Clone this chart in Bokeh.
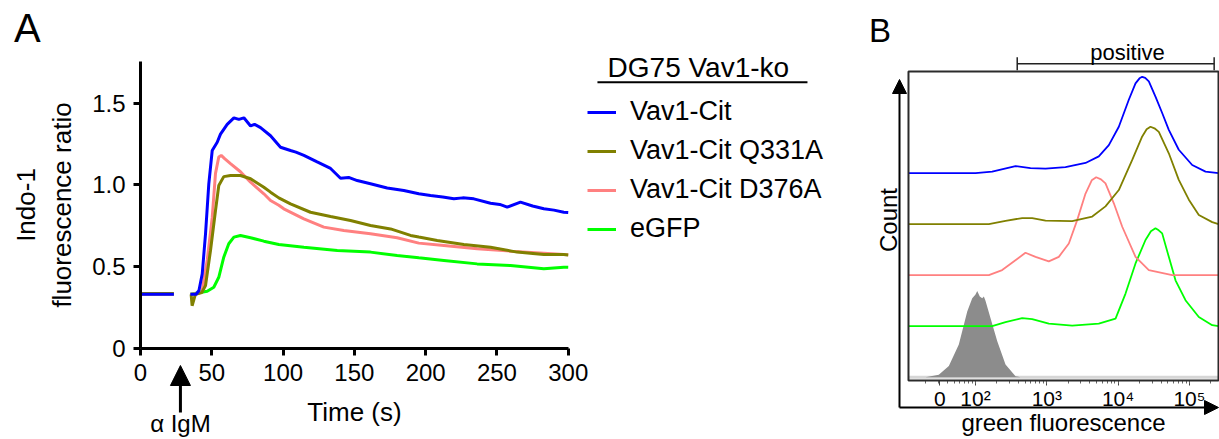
import numpy as np
from bokeh.plotting import figure
from bokeh.models import (Range1d, FixedTicker, Legend, LegendItem, Label, Arrow,
                          NormalHead, TeeHead, BoxAnnotation)
from bokeh.layouts import row
from bokeh.embed import file_html
from bokeh.resources import INLINE

FONT = "Liberation Sans"
nan = float("nan")

# ---------------- Panel A: Indo-1 calcium flux after anti-IgM ----------------
series_names = ["Vav1-Cit", "Vav1-Cit Q331A", "Vav1-Cit D376A", "eGFP"]
series_colors = ["#0000ff", "#808000", "#ff8080", "#00ff00"]

t_vav1 = [0, 23.4, 29, 35, 39, 41, 43.3, 45.6, 47.9, 50.3, 53.8, 56.1, 60.8, 65.5, 69, 72.5,
          77.2, 80, 84.2, 91.2, 98.2, 105.2, 109, 114.6, 123.9, 133.3, 140.3, 146, 152,
          161.3, 173, 184.7, 195.2, 203.4, 212, 219.8, 226, 233.8, 245.5, 252, 257.2,
          266.5, 275, 282.9, 290, 296.9, 300]
r_vav1 = [0.33, 0.33, nan, 0.33, 0.33, 0.353, 0.455, 0.70, 1.006, 1.21, 1.26, 1.31, 1.37,
          1.41, 1.40, 1.41, 1.36, 1.37, 1.35, 1.30, 1.23, 1.21, 1.20, 1.18, 1.14, 1.10, 1.04,
          1.045, 1.026, 1.006, 0.98, 0.965, 0.945, 0.934, 0.925, 0.914, 0.92, 0.914, 0.887,
          0.88, 0.863, 0.894, 0.87, 0.853, 0.845, 0.832, 0.83]

t_q331a = [0, 23.4, 29, 35.5, 36.2, 37.4, 38.5, 43, 45.6, 49.1, 52.6, 54.9, 58.4, 63.1, 70.1,
           77.2, 86.5, 91.2, 97, 105.2, 119.2, 133.3, 147.3, 161.3, 175.4, 189.4, 195.2,
           208.1, 226.8, 245.5, 264.2, 282.9, 296.9, 300]
r_q331a = [0.335, 0.335, nan, 0.33, 0.26, 0.296, 0.33, 0.34, 0.384, 0.598, 0.843, 0.996, 1.05,
           1.057, 1.057, 1.037, 0.985, 0.955, 0.92, 0.883, 0.832, 0.806, 0.781, 0.751, 0.73,
           0.69, 0.68, 0.659, 0.635, 0.618, 0.588, 0.573, 0.573, 0.57]

t_d376a = [0, 23.4, 29, 35, 41, 43.3, 46.8, 50.3, 52.6, 54.9, 56.6, 59, 63.1, 70.1, 77.2, 86.5,
           91.2, 97, 100.5, 114.6, 128.6, 142.6, 161.3, 180, 195.2, 212.8, 236.1, 259.5,
           282.9, 296.9, 300]
r_d376a = [0.33, 0.33, nan, 0.33, 0.335, 0.353, 0.54, 0.80, 1.07, 1.17, 1.18, 1.16, 1.13, 1.08,
           1.016, 0.945, 0.904, 0.875, 0.853, 0.792, 0.741, 0.72, 0.70, 0.676, 0.643, 0.628,
           0.608, 0.594, 0.581, 0.573, 0.572]

t_egfp = [0, 23.4, 29, 35, 46.8, 51.4, 54.9, 58.4, 61.9, 65.5, 70.1, 77.2, 86.5, 97, 114.6,
          138, 161.3, 180, 195.2, 212.8, 236.1, 259.5, 282.9, 296.9, 300]
r_egfp = [0.33, 0.33, nan, 0.33, 0.349, 0.373, 0.434, 0.557, 0.639, 0.68, 0.69, 0.676, 0.655,
          0.635, 0.618, 0.598, 0.588, 0.567, 0.553, 0.537, 0.516, 0.506, 0.486, 0.496, 0.495]

y_ticks = [0, 0.5, 1.0, 1.5]
y_tick_labels = {0: "0", 0.5: "0.5", 1.0: "1.0", 1.5: "1.5"}
x_ticks = [0, 50, 100, 150, 200, 250, 300]
t_axis = (0, 300)        # extent of the time axis
r_axis = (0, 1.755)      # extent of the ratio axis
stim_time = 28           # anti-IgM added

# the frame spans the whole canvas; axes are pinned at t=0 / ratio=0
pa = figure(width=860, height=439, output_backend="svg", toolbar_location=None,
            x_range=Range1d(-98.2, 505.0), y_range=Range1d(-0.5588, 2.1279),
            min_border=0, min_border_left=0, min_border_right=0,
            min_border_top=0, min_border_bottom=0)
pa.outline_line_color = None
pa.xgrid.visible = False
pa.ygrid.visible = False

renderers = {}
data_a = {
    "Vav1-Cit": (t_vav1, r_vav1),
    "Vav1-Cit Q331A": (t_q331a, r_q331a),
    "Vav1-Cit D376A": (t_d376a, r_d376a),
    "eGFP": (t_egfp, r_egfp),
}
for name, color in reversed(list(zip(series_names, series_colors))):
    t, r = data_a[name]
    renderers[name] = pa.line(t, r, line_color=color, line_width=3)

for ax in (pa.xaxis[0], pa.yaxis[0]):
    ax.axis_line_width = 3
    ax.axis_line_color = "black"
    ax.major_tick_line_width = 3
    ax.major_tick_out = 7
    ax.major_tick_in = 0
    ax.minor_tick_line_color = None
    ax.major_label_text_font = FONT
    ax.major_label_text_font_size = "24px"
    ax.major_label_text_color = "black"
    ax.axis_label_text_font = FONT
    ax.axis_label_text_font_size = "26px"
    ax.axis_label_text_font_style = "normal"
    ax.axis_label_text_color = "black"

xa = pa.xaxis[0]
xa.fixed_location = 0
xa.bounds = t_axis
xa.ticker = FixedTicker(ticks=x_ticks)
xa.major_label_standoff = 9
xa.axis_label = "Time (s)"
xa.axis_label_standoff = 12

ya = pa.yaxis[0]
ya.fixed_location = 0
ya.bounds = r_axis
ya.ticker = FixedTicker(ticks=y_ticks)
ya.major_label_overrides = y_tick_labels
ya.major_label_standoff = 8
ya.axis_label = "Indo-1\nfluorescence ratio"
ya.axis_label_standoff = 12

legend = Legend(
    items=[LegendItem(label=n, renderers=[renderers[n]]) for n in series_names],
    location=(587, 195), orientation="vertical",
    glyph_width=29, glyph_height=30, label_height=30, spacing=8,
    padding=0, margin=0, label_standoff=14,
    border_line_color=None, background_fill_alpha=0,
    label_text_font=FONT, label_text_font_size="27px", label_text_color="black",
)
pa.add_layout(legend)

pa.add_layout(Label(x=327.6, y=1.715, text="DG75 Vav1-ko", text_align="left",
                    text_baseline="middle", text_font=FONT, text_font_size="28px",
                    text_color="black"))
pa.add_layout(Arrow(end=None, x_start=320.5, x_end=467.8, y_start=1.628, y_end=1.628,
                    line_width=2, line_color="black"))

pa.add_layout(Arrow(end=NormalHead(size=20, fill_color="black", line_color="black"),
                    x_start=stim_time, y_start=-0.394, x_end=stim_time, y_end=-0.106,
                    line_width=3, line_color="black"))
pa.add_layout(Label(x=stim_time, y=-0.46, text="α IgM", text_align="center",
                    text_baseline="middle", text_font=FONT, text_font_size="24px",
                    text_color="black"))
pa.add_layout(Label(x=-79.3, y=1.96, text="A", text_align="center", text_baseline="middle",
                    text_font=FONT, text_font_size="40px", text_color="black"))

# ---------------- Panel B: green fluorescence histograms (log decades) ----------------
offsets = {"Vav1-Cit": 4, "Vav1-Cit Q331A": 3, "Vav1-Cit D376A": 2, "eGFP": 1, "neg": 0}

h_vav1_x = [1.06, 2.0, 2.234, 2.561, 2.771, 2.982, 3.262, 3.543, 3.729, 3.870, 4.010, 4.150,
            4.244, 4.30, 4.338, 4.38, 4.431, 4.524, 4.618, 4.711, 4.851, 5.039, 5.226, 5.408]
h_vav1_y = [0, 0, 0.03, 0.14, 0.10, 0.09, 0.12, 0.20, 0.33, 0.55, 0.91, 1.44, 1.76, 1.86, 1.89,
            1.87, 1.80, 1.50, 1.18, 0.85, 0.46, 0.16, 0.03, 0]

h_q331a_x = [1.06, 2.187, 2.421, 2.655, 2.795, 2.982, 3.356, 3.637, 3.823, 4.010, 4.198, 4.338,
             4.40, 4.454, 4.51, 4.571, 4.711, 4.851, 4.992, 5.132, 5.320, 5.408]
h_q331a_y = [0, 0, 0.065, 0.12, 0.12, 0.07, 0.06, 0.15, 0.35, 0.67, 1.26, 1.72, 1.86, 1.91,
             1.88, 1.81, 1.39, 0.87, 0.48, 0.18, 0.04, 0]

h_d376a_x = [1.06, 2.187, 2.374, 2.701, 2.842, 3.028, 3.168, 3.309, 3.426, 3.543, 3.63, 3.693,
             3.76, 3.823, 3.940, 4.058, 4.244, 4.431, 4.759, 5.408]
h_d376a_y = [0, 0, 0.10, 0.44, 0.36, 0.27, 0.36, 0.62, 1.08, 1.60, 1.86, 1.92, 1.88, 1.80,
             1.41, 0.95, 0.36, 0.10, 0, 0]

h_egfp_x = [1.06, 2.234, 2.421, 2.655, 2.795, 3.028, 3.356, 3.729, 3.964, 4.104, 4.244, 4.384,
            4.46, 4.524, 4.57, 4.618, 4.711, 4.805, 4.945, 5.132, 5.320, 5.408]
h_egfp_y = [0, 0, 0.08, 0.16, 0.14, 0.05, 0.01, 0.05, 0.15, 0.64, 1.23, 1.69, 1.86, 1.92,
            1.88, 1.82, 1.36, 0.90, 0.51, 0.18, 0.02, 0]

h_neg_x = [1.299, 1.485, 1.626, 1.766, 1.884, 1.954, 2.0, 2.024, 2.06, 2.094, 2.117, 2.14,
           2.21, 2.304, 2.421, 2.561, 2.631]
h_neg_y = [0, 0.05, 0.22, 0.64, 1.29, 1.55, 1.62, 1.69, 1.58, 1.55, 1.58, 1.50, 1.16, 0.71,
           0.25, 0.02, 0]

b_ticks = [1.5, 2, 3, 4, 5]
b_tick_labels = {1.5: "0", 2: "10²", 3: "10³", 4: "10⁴", 5: "10⁵"}
b_minor = [float(np.log10(k * 10.0 ** n)) for n in range(1, 6) for k in range(1, 10)]
b_minor = [m for m in b_minor if 1.06 < m < 5.41]
x_lo, x_hi = 1.06, 5.408     # histogram display domain (decades)
y_lo, y_hi = -0.065, 5.994   # stacked count domain
gate_lo, gate_hi = 2.585, 5.347  # "positive" gate, in decades
axis_x0, axis_y0 = 0.934, -0.594  # corner of the arrow axes

pb = figure(width=359, height=439, output_backend="svg", toolbar_location=None,
            x_range=Range1d(0.387, 5.422), y_range=Range1d(-1.2216, 7.386),
            min_border=0, min_border_left=0, min_border_right=0,
            min_border_top=0, min_border_bottom=0)
pb.xgrid.visible = False
pb.ygrid.visible = False
pb.outline_line_color = None

pb.add_layout(BoxAnnotation(left=x_lo, right=x_hi, bottom=y_lo, top=y_hi,
                            fill_alpha=0, line_color="#2b2b2b", line_alpha=1.0,
                            line_width=2))
pb.line([x_lo, x_hi], [offsets["neg"], offsets["neg"]], line_color="#d6d6d6", line_width=3)
pb.varea(x=h_neg_x, y1=offsets["neg"], y2=np.array(h_neg_y) + offsets["neg"],
         fill_color="#8c8c8c")
hist = [("eGFP", h_egfp_x, h_egfp_y), ("Vav1-Cit D376A", h_d376a_x, h_d376a_y),
        ("Vav1-Cit Q331A", h_q331a_x, h_q331a_y), ("Vav1-Cit", h_vav1_x, h_vav1_y)]
color_of = dict(zip(series_names, series_colors))
for name, hx, hy in hist:
    pb.line(hx, np.array(hy) + offsets[name], line_color=color_of[name], line_width=1.8)

xb = pb.xaxis[0]
xb.fixed_location = y_lo
xb.bounds = (x_lo, x_hi)
xb.ticker = FixedTicker(ticks=b_ticks, minor_ticks=b_minor)
xb.major_label_overrides = b_tick_labels
xb.axis_line_color = None
xb.major_tick_line_color = "#444444"
xb.minor_tick_line_color = "#666666"
xb.major_tick_out = 5
xb.major_tick_in = 0
xb.minor_tick_out = 3
xb.minor_tick_in = 0
xb.major_label_standoff = 1
xb.major_label_text_font = FONT
xb.major_label_text_font_size = "21px"
xb.major_label_text_color = "black"
xb.axis_label = "green fluorescence"
xb.axis_label_standoff = -4
xb.axis_label_text_font = FONT
xb.axis_label_text_font_size = "24px"
xb.axis_label_text_font_style = "normal"
xb.axis_label_text_color = "black"

yb = pb.yaxis[0]
yb.fixed_location = x_lo
yb.ticker = FixedTicker(ticks=[])
yb.axis_line_color = None
yb.major_tick_out = 0
yb.major_tick_in = 0
yb.minor_tick_line_color = None
yb.axis_label = "Count"
yb.axis_label_standoff = 7
yb.axis_label_text_font = FONT
yb.axis_label_text_font_size = "24px"
yb.axis_label_text_font_style = "normal"
yb.axis_label_text_color = "black"

head = dict(size=14, fill_color="black", line_color="black")
pb.add_layout(Arrow(end=NormalHead(**head), x_start=axis_x0, y_start=axis_y0, x_end=axis_x0,
                    y_end=5.837, line_width=2, line_color="black"))
pb.add_layout(Arrow(end=NormalHead(**head), x_start=axis_x0, y_start=axis_y0, x_end=x_hi,
                    y_end=axis_y0, line_width=2, line_color="black"))
pb.add_layout(Arrow(start=TeeHead(size=13, line_width=1.5, line_color="#222222"),
                    end=TeeHead(size=13, line_width=1.5, line_color="#222222"),
                    x_start=gate_lo, x_end=gate_hi, y_start=6.145, y_end=6.145,
                    line_width=1.5, line_color="#222222"))
pb.add_layout(Label(x=4.132, y=6.367, text="positive", text_align="center",
                    text_baseline="middle", text_font=FONT, text_font_size="22px",
                    text_color="black"))
pb.add_layout(Label(x=0.661, y=6.798, text="B", text_align="center", text_baseline="middle",
                    text_font=FONT, text_font_size="33px", text_color="black"))

layout = row(pa, pb, spacing=0)
open("out.html", "w").write(file_html(layout, INLINE))
